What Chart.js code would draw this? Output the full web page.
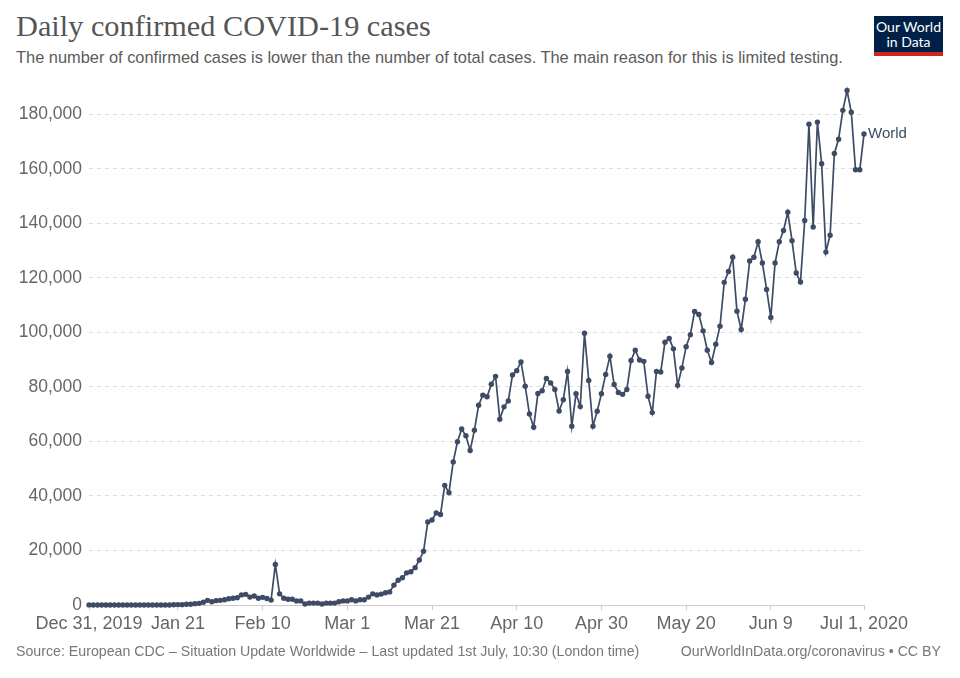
<!DOCTYPE html>
<html>
<head>
<meta charset="utf-8">
<script src="https://cdn.jsdelivr.net/npm/chart.js@4.4.1/dist/chart.umd.min.js"></script>
<style>
  body { margin: 0; background: #fff; }
  #wrap { position: relative; width: 960px; height: 678px; overflow: hidden; }
  #chart { position: absolute; left: 0; top: 0; }
  .title { position: absolute; left: 16px; top: 9px; font-family: "Liberation Serif", serif; font-size: 30.3px; color: #555; white-space: nowrap; }
  .subtitle { position: absolute; left: 16px; top: 48px; font-family: "Liberation Sans", Arial, sans-serif; font-size: 16.4px; color: #5b5b5b; white-space: nowrap; }
  .logo { position: absolute; left: 874px; top: 16px; width: 69px; background: #002147; border-bottom: 4px solid #ce261e;
          color: #fff; font-family: Lato, sans-serif; font-size: 14px; line-height: 15px; text-align: center; padding-top: 3px; box-sizing: content-box; height: 33px; }
  .foot { position: absolute; top: 643px; font-family: "Liberation Sans", Arial, sans-serif; font-size: 14.2px; color: #777; white-space: nowrap; }
</style>
</head>
<body>
<div id="wrap">
  <div class="title">Daily confirmed COVID-19 cases</div>
  <div class="subtitle">The number of confirmed cases is lower than the number of total cases. The main reason for this is limited testing.</div>
  <div class="logo">Our World<br>in Data</div>
  <canvas id="chart" width="960" height="678"></canvas>
  <div class="foot" style="left:16px">Source: European CDC – Situation Update Worldwide – Last updated 1st July, 10:30 (London time)</div>
  <div class="foot" style="right:19px">OurWorldInData.org/coronavirus • CC BY</div>
</div>
<script>
/* data: one value per day, day 0 = Dec 31, 2019 ... day 183 = Jul 1, 2020 */
const seriesName = "World";
const cases = [
  30, 0, 0, 20, 0, 20, 0, 0, 0, 0,
  0, 0, 0, 0, 0, 0, 0, 0, 0, 0,
  80, 150, 120, 280, 300, 500, 600, 1000, 1700, 1200,
  1600, 1700, 1900, 2300, 2500, 2700, 3700, 3900, 2900, 3300,
  2500, 2800, 2400, 1800, 14900, 4100, 2500, 2100, 2100, 1500,
  1500, 350, 700, 700, 700, 350, 700, 700, 700, 1200,
  1500, 1500, 1900, 1500, 1900, 1900, 2900, 4100, 3700, 4000,
  4500, 4800, 7300, 9100, 10000, 11800, 12200, 13700, 16500, 19700,
  30500, 31200, 33800, 33200, 43900, 41200, 52500, 59900, 64600, 62100,
  56700, 64100, 73300, 77000, 76400, 81000, 83900, 68200, 72700, 74900,
  84400, 86000, 89200, 80300, 70100, 65200, 77600, 78600, 83100, 81500,
  79100, 71200, 75300, 85700, 65600, 77500, 72800, 99700, 82400, 65600,
  71100, 77500, 84600, 91300, 80900, 78000, 77300, 79100, 89700, 93500,
  89900, 89400, 76600, 70600, 85700, 85500, 96400, 97800, 94000, 80600,
  87000, 94800, 99200, 107700, 106600, 100600, 93500, 89000, 95700, 102300,
  118400, 122400, 127600, 107800, 101100, 112200, 126200, 127600, 133300, 125500,
  115800, 105500, 125500, 133300, 137400, 144100, 133700, 121800, 118500, 141100,
  176400, 138700, 177200, 161900, 129500, 135700, 165700, 170900, 181500, 188800,
  180800, 159700, 159700, 172800
];
const tickDays = [0, 21, 41, 61, 81, 101, 121, 141, 161, 183];
const tickLabels = ["Dec 31, 2019", "Jan 21", "Feb 10", "Mar 1", "Mar 21", "Apr 10", "Apr 30", "May 20", "Jun 9", "Jul 1, 2020"];
const yTicks = [0, 20000, 40000, 60000, 80000, 100000, 120000, 140000, 160000, 180000];

const lineColor = "#3d4b64";
const fontFam = "'Liberation Sans', Arial, sans-serif";

// series label next to the last point
const endLabel = {
  id: "endLabel",
  afterDatasetsDraw(chart) {
    const pts = chart.getDatasetMeta(0).data;
    const last = pts[pts.length - 1];
    const c = chart.ctx;
    c.save();
    c.font = "15px " + fontFam;
    c.fillStyle = lineColor;
    c.textBaseline = "middle";
    c.fillText(seriesName, last.x + 4, last.y);
    c.restore();
  }
};

new Chart(document.getElementById("chart"), {
  type: "line",
  data: {
    datasets: [{
      label: seriesName,
      data: cases.map((v, i) => ({ x: i, y: v })),
      borderColor: lineColor,
      backgroundColor: lineColor,
      borderWidth: 1.7,
      pointRadius: 2.7,
      pointBorderWidth: 0,
      tension: 0,
      clip: false
    }]
  },
  options: {
    responsive: false,
    animation: false,
    layout: { padding: { top: 87.2, right: 96, bottom: 33, left: 0 } },
    plugins: { legend: { display: false }, tooltip: { enabled: false } },
    scales: {
      x: {
        type: "linear",
        min: 0,
        max: cases.length - 1,
        afterBuildTicks: (s) => { s.ticks = tickDays.map(v => ({ value: v })); },
        afterFit: (s) => { s.height = 40; },
        ticks: {
          autoSkip: false,
          maxRotation: 0,
          padding: 3,
          color: "#666",
          font: { family: fontFam, size: 18 },
          callback: (v) => tickLabels[tickDays.indexOf(v)]
        },
        grid: { drawOnChartArea: false, drawTicks: true, tickLength: 5, color: "#ccc" },
        border: { color: "#ccc" }
      },
      y: {
        min: 0,
        max: 190000,
        afterBuildTicks: (s) => { s.ticks = yTicks.map(v => ({ value: v })); },
        afterFit: (s) => { s.width = 89; },
        ticks: {
          padding: 7,
          color: "#666",
          font: { family: fontFam, size: 17.5 },
          callback: (v) => v.toLocaleString("en-US")
        },
        grid: { color: "#ddd", drawTicks: false },
        border: { display: false, dash: [4, 4] }
      }
    }
  },
  plugins: [endLabel]
});
</script>
</body>
</html>
